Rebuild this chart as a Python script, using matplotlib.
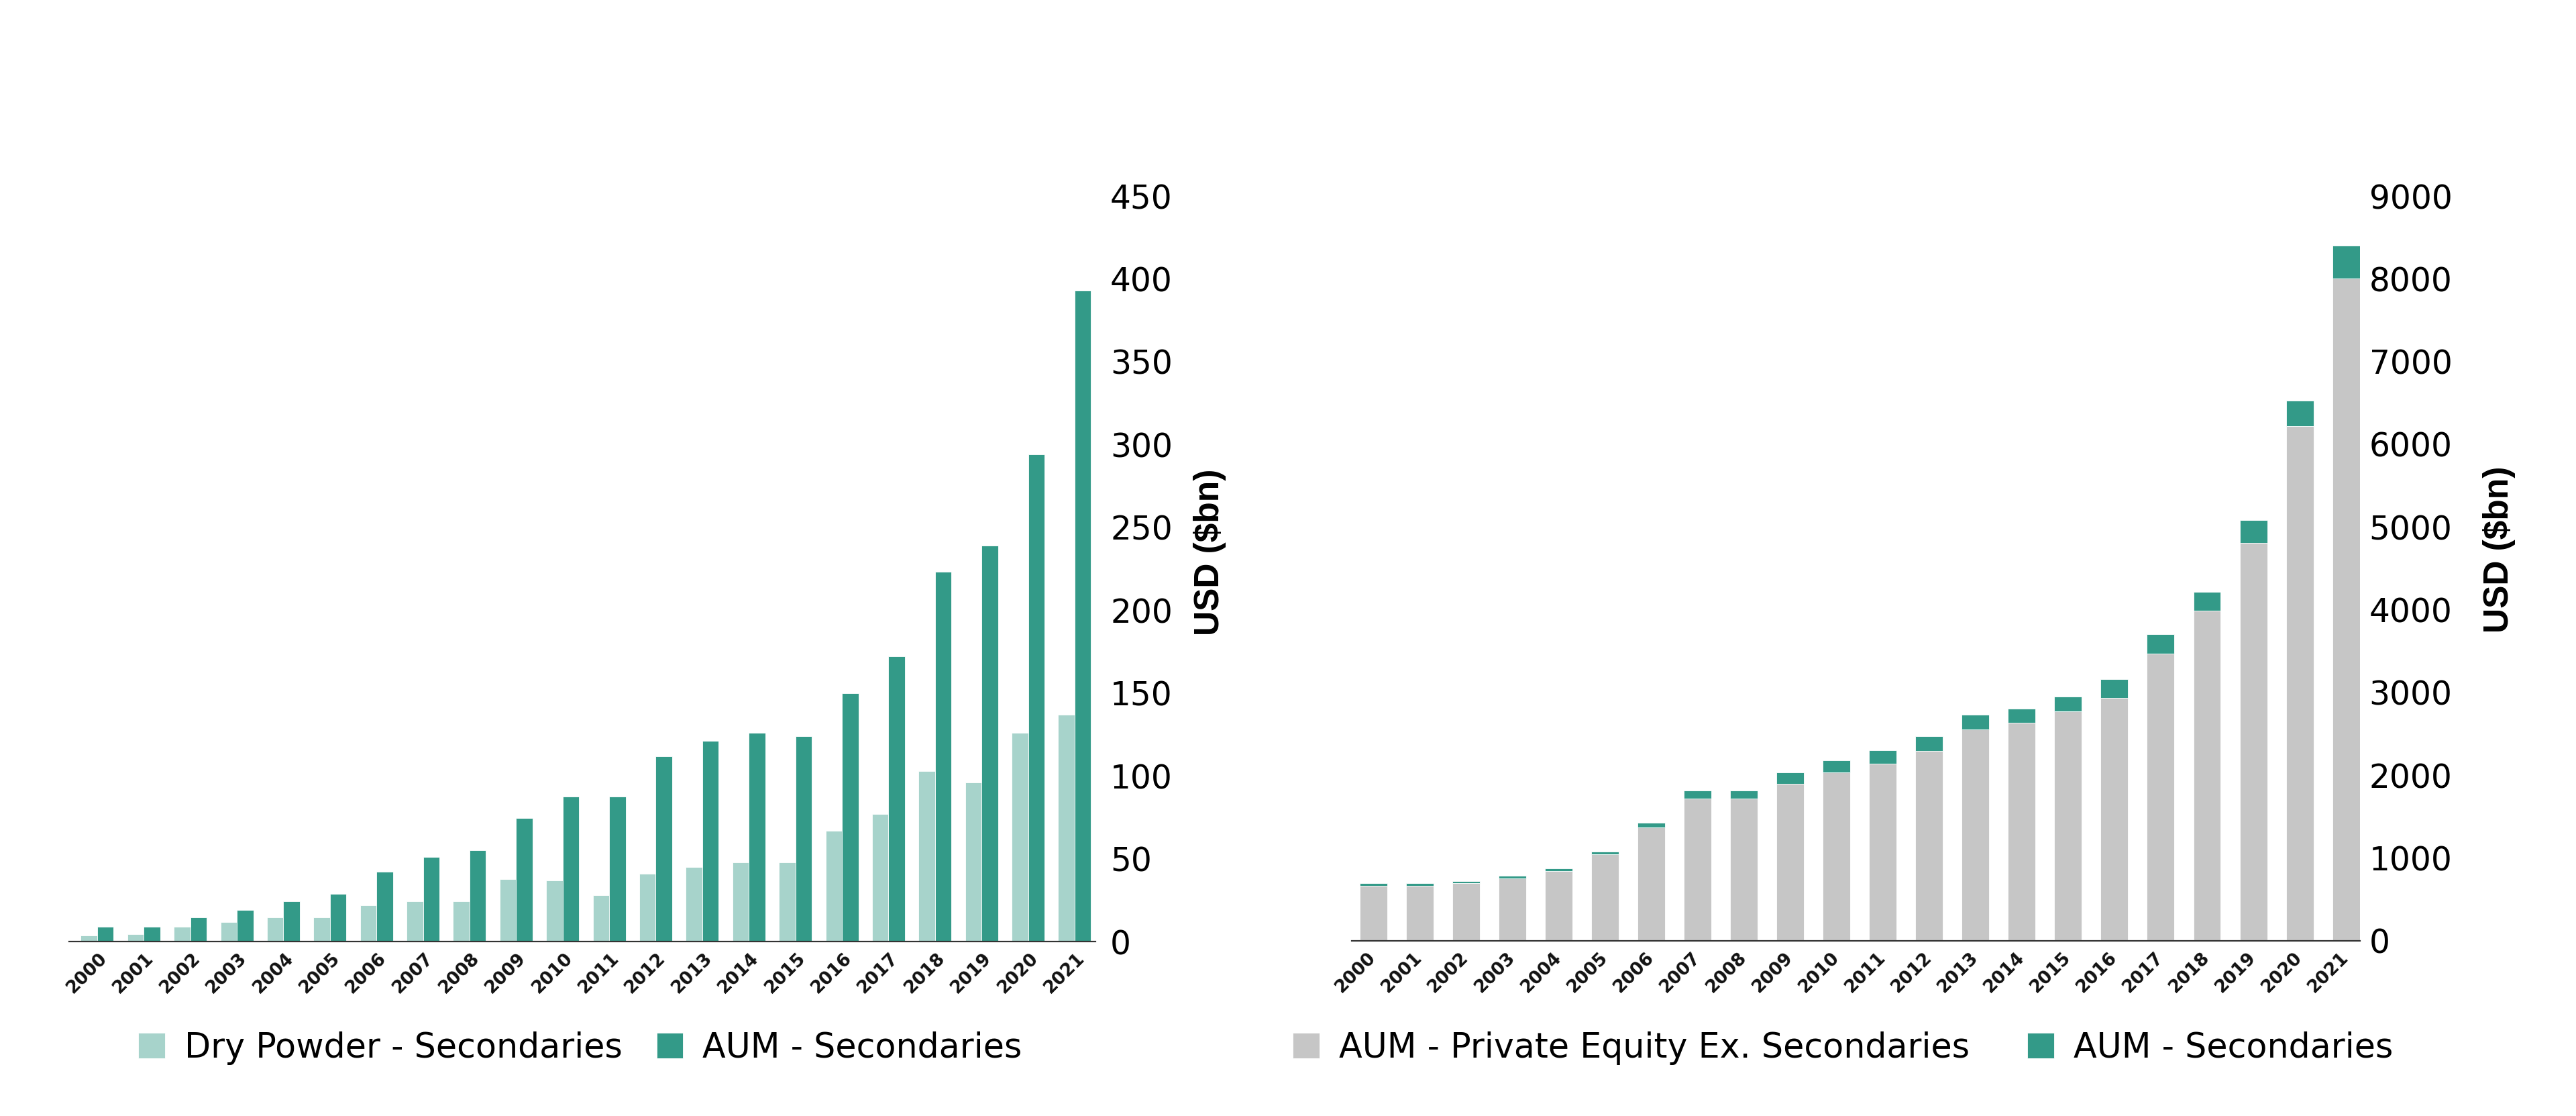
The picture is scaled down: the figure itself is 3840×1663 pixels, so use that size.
# Secondaries dry powder / AUM and private equity AUM, two bar charts side by side

import numpy as np
import matplotlib
matplotlib.use('Agg')
import matplotlib.pyplot as plt
from matplotlib.transforms import ScaledTranslation

# %%
# Data (USD bn)
years = [str(y) for y in range(2000, 2022)]

dry_powder_sec = [3.6, 4.5, 8.9, 11.7, 14.7, 14.7, 22, 24.3, 24.3, 37.5, 37,
                  28, 41, 45, 48, 48, 67, 77, 103, 96, 126, 137]
aum_sec = [8.9, 8.9, 14.7, 19.2, 24.3, 28.8, 42, 51, 55, 74.5, 87.6,
           87.6, 112, 121, 126, 124, 150, 172, 223, 239, 294, 393]

aum_pe_ex_sec = [665, 665, 695, 754, 840, 1046, 1371, 1722, 1722, 1900, 2033,
                 2141, 2295, 2556, 2632, 2776, 2938, 3470, 3985, 4806, 6217, 7999]
aum_sec_stack = [30, 30, 29, 30, 33, 33, 59, 92, 92, 133, 149,
                 162, 175, 174, 173, 174, 220, 232, 231, 278, 313, 399]

left_ticks = list(range(0, 451, 50))
right_ticks = list(range(0, 9001, 1000))

# colours
light_teal = '#a7d3cb'
dark_teal = '#339a88'
grey = '#c6c6c6'

# %%
fig = plt.figure(figsize=(38.4, 16.63), dpi=100)
ax1 = fig.add_axes([0.0268, 0.1563, 0.3985, 0.6681])
ax2 = fig.add_axes([0.5247, 0.1570, 0.3914, 0.6674])

x = np.arange(len(years))

# left chart: grouped bars
w = 0.353
ax1.bar(x - w / 2, dry_powder_sec, width=w, color=light_teal,
        edgecolor='white', linewidth=0.6, label='Dry Powder - Secondaries')
ax1.bar(x + w / 2, aum_sec, width=w, color=dark_teal,
        edgecolor='white', linewidth=0.6, label='AUM - Secondaries')
ax1.set_xlim(-0.605, 21.45)
ax1.set_ylim(0, 450)
ax1.set_yticks(left_ticks)

# right chart: stacked bars
w2 = 0.593
ax2.bar(x, aum_pe_ex_sec, width=w2, color=grey, edgecolor='white',
        linewidth=0.6, label='AUM - Private Equity Ex. Secondaries')
ax2.bar(x, aum_sec_stack, width=w2, bottom=aum_pe_ex_sec, color=dark_teal,
        edgecolor='white', linewidth=0.6, label='AUM - Secondaries')
ax2.set_xlim(-0.47, 21.30)
ax2.set_ylim(0, 9000)
ax2.set_yticks(right_ticks)

# %%
# Common styling
for ax, ypad, dx, lx, ly in [(ax1, 15.8, 11, 1.111, 0.522),
                             (ax2, 10.0, 0, 1.1384, 0.525)]:
    for s in ['top', 'left', 'right']:
        ax.spines[s].set_visible(False)
    ax.spines['bottom'].set_color('#333333')
    ax.spines['bottom'].set_linewidth(1.6)
    ax.yaxis.tick_right()
    ax.tick_params(axis='y', length=0, pad=ypad, labelsize=35,
                   labelcolor='black')
    ax.tick_params(axis='x', length=0, pad=15)
    ax.set_xticks(x)
    ax.set_xticklabels(years, rotation=45, ha='right', va='center',
                       rotation_mode='anchor', fontsize=19, weight='bold',
                       color='#111111')
    offset = ScaledTranslation(dx / 100, 0, fig.dpi_scale_trans)
    for lab in ax.get_xticklabels():
        lab.set_transform(lab.get_transform() + offset)
    ax.set_ylabel('USD ($bn)', family='Liberation Sans', weight='bold',
                  fontsize=37, rotation=90)
    ax.yaxis.set_label_coords(lx, ly)
    ax.yaxis.label.set_va('center')

# %%
# Legends below the charts
fig.legend(*ax1.get_legend_handles_labels(), loc='center left',
           bbox_to_anchor=(206 / 3840, 1 - 1562 / 1663), ncol=2,
           frameon=False, fontsize=36.5, handlelength=0.78, handleheight=0.78,
           handletextpad=0.58, columnspacing=1.0, borderpad=0, borderaxespad=0)
fig.legend(*ax2.get_legend_handles_labels(), loc='center left',
           bbox_to_anchor=(1927 / 3840, 1 - 1562 / 1663), ncol=2,
           frameon=False, fontsize=36.5, handlelength=0.78, handleheight=0.78,
           handletextpad=0.58, columnspacing=1.7, borderpad=0, borderaxespad=0)

fig.savefig('out.png', dpi=100)
